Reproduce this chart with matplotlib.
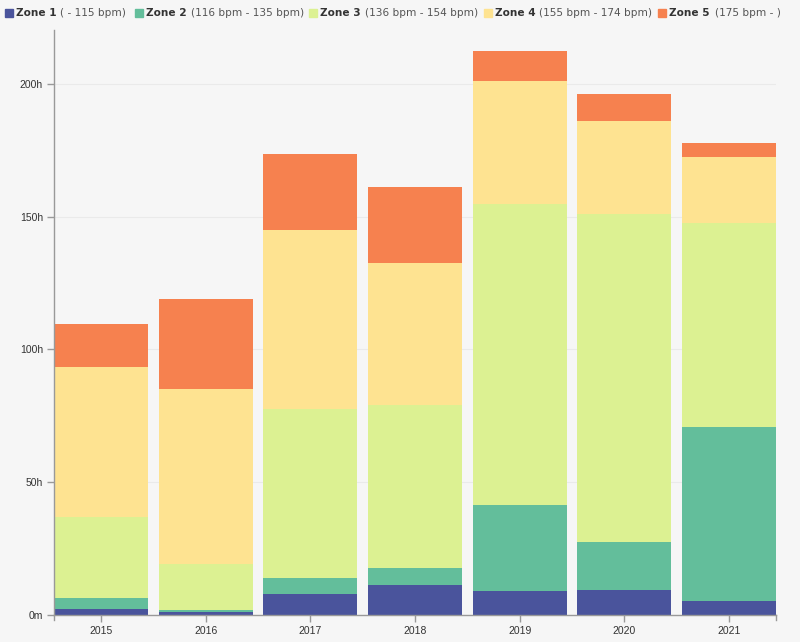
import matplotlib
matplotlib.use("Agg")
import matplotlib.pyplot as plt
import numpy as np

YEARS = ["2015", "2016", "2017", "2018", "2019", "2020", "2021"]

# hours per zone per year
ZONE1 = [2.3, 1.1, 7.9, 11.3, 9.0, 9.4, 5.3]
ZONE2 = [4.1, 0.8, 6.0, 6.4, 32.4, 18.1, 65.5]
ZONE3 = [30.5, 17.3, 63.7, 61.4, 113.4, 123.5, 76.8]
ZONE4 = [56.5, 65.9, 67.4, 53.5, 46.3, 35.1, 24.9]
ZONE5 = [16.2, 33.9, 28.6, 28.6, 11.3, 10.1, 5.3]

ZONE_NAMES = ["Zone 1", "Zone 2", "Zone 3", "Zone 4", "Zone 5"]
ZONE_RANGES = ["( - 115 bpm)", "(116 bpm - 135 bpm)", "(136 bpm - 154 bpm)",
               "(155 bpm - 174 bpm)", "(175 bpm - )"]
ZONE_COLORS = ["#4a549c", "#63be9b", "#dcf192", "#fee391", "#f6814f"]

Y_TICKS = [0, 50, 100, 150, 200]
Y_TICK_LABELS = ["0m", "50h", "100h", "150h", "200h"]

BG = "#f6f6f6"
W, H = 800, 642
BAR_W = 0.9

fig = plt.figure(figsize=(W / 100, H / 100), dpi=100, facecolor=BG)
ax = fig.add_axes([54 / W, 27 / H, (776 - 54) / W, (615 - 30) / H], facecolor=BG)

x = np.arange(len(YEARS))
bottom = np.zeros(len(YEARS))
for values, color in zip([ZONE1, ZONE2, ZONE3, ZONE4, ZONE5], ZONE_COLORS):
    ax.bar(x, values, width=BAR_W, bottom=bottom, color=color, zorder=2)
    bottom += np.array(values)

x_lo, x_hi = -BAR_W / 2, len(YEARS) - 1 + BAR_W / 2
ax.set_xlim(x_lo, x_hi)
ax.set_ylim(0, 220.3)

ax.set_yticks(Y_TICKS, labels=Y_TICK_LABELS)
ax.set_xticks(x, labels=YEARS)
for val in Y_TICKS[1:]:
    ax.axhline(val, color="#eaeaea", linewidth=0.8, zorder=1)

for side in ["top", "right"]:
    ax.spines[side].set_visible(False)
for side in ["left", "bottom"]:
    ax.spines[side].set_color("#999999")
    ax.spines[side].set_linewidth(1.0)

ax.tick_params(axis="both", colors="#999999", length=5, width=1.0,
               labelcolor="#333333", labelsize=7.5, pad=3)
for lab in ax.get_xticklabels() + ax.get_yticklabels():
    lab.set_family("Liberation Sans")

# outer ticks at both ends of the x domain
for xe in [x_lo, x_hi]:
    ax.plot([xe, xe], [0, -0.0085], transform=ax.get_xaxis_transform(),
            color="#999999", linewidth=1.0, clip_on=False)

# legend row along the top
square_x = [5, 135, 309, 484, 658]
name_x = [16, 146, 320, 495, 669]
range_x = [60, 191, 365, 539, 715]
ly = 1 - 13 / H
for i in range(len(ZONE_NAMES)):
    fig.patches.append(plt.Rectangle((square_x[i] / W, 1 - 17 / H), 8 / W, 8 / H,
                                     transform=fig.transFigure, color=ZONE_COLORS[i]))
    fig.text(name_x[i] / W, ly, ZONE_NAMES[i], fontsize=7.6, fontweight="bold",
             color="#333333", va="center", family="DejaVu Sans")
    fig.text(range_x[i] / W, ly, ZONE_RANGES[i], fontsize=7.6,
             color="#555555", va="center", family="DejaVu Sans")

fig.savefig("out.png", dpi=100, facecolor=BG)
